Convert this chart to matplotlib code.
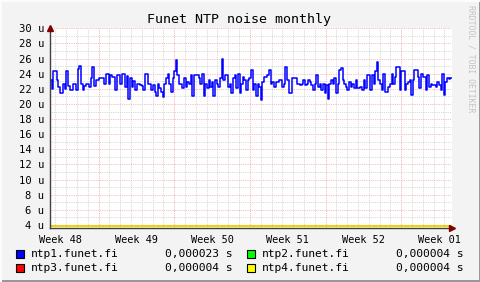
import numpy as np
import matplotlib
matplotlib.use("Agg")
import matplotlib.pyplot as plt
from matplotlib.patches import Rectangle

# values in microseconds (left to right)
ntp1 = [
    23.2, 22.0, 24.3, 24.3, 23.1, 22.2, 21.4, 21.4, 22.7, 22.0, 24.3, 22.4, 21.9, 21.9, 22.7, 22.7,
    21.9, 24.6, 25.0, 22.7, 21.9, 22.4, 22.7, 22.7, 22.2, 23.4, 24.9, 22.4, 23.2, 23.2, 23.4, 23.4,
    23.4, 22.7, 24.0, 24.0, 22.7, 23.8, 23.6, 23.6, 21.9, 23.8, 23.8, 22.7, 24.0, 24.0, 22.2, 23.7,
    20.7, 23.4, 22.2, 23.0, 21.9, 22.7, 22.7, 22.5, 22.4, 21.9, 24.0, 24.0, 22.7,
    22.7, 21.8, 22.5, 21.6, 21.0, 22.7, 22.1, 21.6, 20.9, 22.7, 23.4, 24.0, 22.7, 21.6, 23.4, 24.3,
    25.8, 23.8, 22.7, 22.7, 22.1, 23.4, 22.3, 22.9, 22.7, 23.8, 21.0, 23.8, 23.8, 23.8, 23.4, 22.7,
    24.0, 21.0, 22.7, 22.1, 23.2, 22.3, 22.9, 21.0, 23.2, 22.7, 22.3, 23.4, 26.0, 23.2, 23.8, 23.8,
    22.3, 22.7, 21.4, 23.4, 23.8, 22.1, 24.0, 21.4, 22.7, 23.6, 23.2, 21.8, 23.2,
    23.4, 24.5, 21.8, 22.7, 21.0, 22.7, 22.3, 20.5, 22.9, 23.6, 23.6, 23.8, 24.5, 22.7, 22.9, 22.3,
    22.9, 22.9, 23.1, 23.1, 22.3, 22.7, 24.9, 23.2, 21.4, 21.4, 23.4, 23.4, 23.4, 22.7, 22.7, 22.5,
    22.7, 23.2, 22.5, 22.7, 23.2, 22.9, 22.5, 21.8, 22.7, 23.8, 22.3, 22.7, 21.8, 22.7, 21.4, 22.5,
    20.7, 22.7, 23.2, 22.7, 23.4, 21.4, 22.7, 24.5, 24.7, 23.2, 22.7, 22.3, 21.8, 22.9, 22.3,
    22.7, 22.1, 23.2, 22.1, 22.1, 22.3, 21.8, 23.2, 22.1, 23.8, 23.8, 21.8, 23.8, 22.7, 24.3, 25.6,
    23.2, 22.7, 21.8, 24.0, 21.6, 21.6, 22.3, 22.7, 24.0, 22.7, 23.6, 24.9, 24.9, 21.8, 24.3, 24.3,
    21.8, 22.7, 22.9, 23.2, 21.2, 23.2, 24.5, 24.5, 23.6, 22.1, 24.0, 23.6, 23.6, 21.8, 23.8, 22.3,
    22.7, 22.5, 22.5, 22.3, 22.9, 22.5, 21.8, 24.0, 21.2, 22.9, 23.4, 23.3, 23.4,
]
ntp2_level = 3.85
ntp3_level = 3.85
ntp4_level = 3.85

names = ["ntp1.funet.fi", "ntp2.funet.fi", "ntp3.funet.fi", "ntp4.funet.fi"]
colors = ["#0000FF", "#00FF00", "#FF0000", "#FFFF00"]
averages = ["0,000023 s", "0,000004 s", "0,000004 s", "0,000004 s"]

week_labels = ["Week 48", "Week 49", "Week 50", "Week 51", "Week 52", "Week 01"]
y_ticks = list(range(4, 31, 2))

span_days = 37.2
first_week_start = 4.5

W, H = 481, 282
fig = plt.figure(figsize=(W / 100, H / 100), dpi=100)
fig.patch.set_facecolor("#F3F3F3")

# 3D-ish frame
fig.add_artist(Rectangle((0, 0), 1, 2 / H, transform=fig.transFigure, color="#999999", lw=0))
fig.add_artist(Rectangle((1 - 2 / W, 0), 2 / W, 1, transform=fig.transFigure, color="#999999", lw=0))
fig.add_artist(Rectangle((0, 1 - 2 / H), 1, 2 / H, transform=fig.transFigure, color="#FCFCFC", lw=0))
fig.add_artist(Rectangle((0, 0), 2 / W, 1, transform=fig.transFigure, color="#FCFCFC", lw=0))

left, right, top, bottom = 50, 452, 28.3, 228
ax = fig.add_axes([left / W, 1 - bottom / H, (right - left) / W, (bottom - top) / H])
ax.set_facecolor("white")
ax.set_xlim(0, span_days)
ax.set_ylim(3.6, 30)

n = len(ntp1)
x = np.linspace(0, span_days, n + 1)
y1 = np.append(ntp1, ntp1[-1])
ax.plot(x, y1, drawstyle="steps-post", color=colors[0], lw=1.1, zorder=3)
for lev, c in zip([ntp2_level, ntp3_level, ntp4_level], colors[1:]):
    ax.plot([0, span_days], [lev, lev], color=c, lw=1.1, zorder=3)

# grid
dot = (0, (1, 1.2))
for d in np.arange(0.5, span_days, 1.0):
    is_week = abs(((d - first_week_start) % 7)) < 1e-6
    ax.axvline(d, color="#F4A0A0" if is_week else "#CCCCCC", lw=0.6, ls=dot, zorder=1)
for v in range(4, 31):
    ax.axhline(v, color="#F4A8A8" if v % 2 == 0 else "#CCCCCC", lw=0.6, ls=dot, zorder=1)

for s in ["top", "right"]:
    ax.spines[s].set_visible(False)
for s in ["left", "bottom"]:
    ax.spines[s].set_color("#404040")
    ax.spines[s].set_linewidth(1.0)
    ax.spines[s].set_zorder(4)

mono = "DejaVu Sans Mono"
ax.set_yticks(y_ticks)
ax.set_yticklabels([f"{v} u" for v in y_ticks], family=mono, fontsize=7.6)
week_centers = [first_week_start - 3.5 + 7 * i for i in range(len(week_labels))]
ax.set_xticks(week_centers)
ax.set_xticklabels(week_labels, family=mono, fontsize=7.4)
ax.tick_params(axis="both", length=0, pad=4)
ax.tick_params(axis="x", pad=5)

# axis arrows
ax.plot([0], [30.0], marker="^", color="#800000", ms=4.5, clip_on=False, zorder=5)
ax.plot([span_days], [3.6], marker=">", color="#800000", ms=4.5, clip_on=False, zorder=5)

fig.text(239.5 / W, 1 - 19 / H, "Funet NTP noise monthly", ha="center", va="center",
         family=mono, fontsize=9.6)
fig.text(471 / W, 1 - 59 / H, "RRDTOOL / TOBI OETIKER", rotation=270, ha="center",
         va="center", family=mono, fontsize=5.9, color="#C4C4C4")

# legend
rows = [254.3, 267.7]
cols = [(15.7, 30.7, 232.3), (246.7, 262.3, 464)]
for i in range(4):
    r, c = i // 2, i % 2
    sx, tx, vx = cols[c]
    yy = rows[r]
    fig.add_artist(Rectangle((sx / W, 1 - (yy + 4) / H), 8 / W, 8 / H,
                             transform=fig.transFigure, facecolor=colors[i],
                             edgecolor="black", lw=0.8))
    fig.text(tx / W, 1 - yy / H, names[i], ha="left", va="center", family=mono, fontsize=8.1)
    fig.text(vx / W, 1 - yy / H, averages[i], ha="right", va="center", family=mono,
             fontsize=8.1)

fig.savefig("out.png", dpi=100, facecolor=fig.get_facecolor())
